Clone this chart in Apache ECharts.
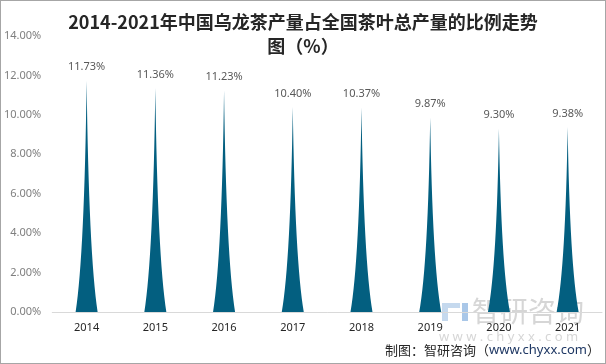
<!DOCTYPE html>
<html><head><meta charset="utf-8">
<script src="https://cdn.jsdelivr.net/npm/echarts@6/dist/echarts.min.js"></script>
<style>
html,body{margin:0;padding:0;background:#fff;}
#c{width:604px;height:362px;border:1px solid #a6a6a6;}
</style></head>
<body><div id="c"></div>
<script>
const years = ['2014','2015','2016','2017','2018','2019','2020','2021'];
const shares = [11.73, 11.36, 11.23, 10.40, 10.37, 9.87, 9.30, 9.38];
const yTicks = [0, 2, 4, 6, 8, 10, 12, 14];

const chart = echarts.init(document.getElementById('c'));
chart.setOption({
  animation: false,
  backgroundColor: '#fff',
  title: {
    text: '2014-2021年中国乌龙茶产量占全国茶叶总产量的比例走势\n图（%）',
    left: 'center', top: 4,
    textStyle: {fontFamily: 'Noto Sans CJK SC', fontWeight: 'bold', fontSize: 18, color: '#262626', lineHeight: 24}
  },
  grid: {left: 49, right: 3, top: 35, bottom: 51},
  xAxis: {
    type: 'category', data: years,
    axisLine: {lineStyle: {color: '#d9d9d9'}},
    axisTick: {show: false},
    axisLabel: {color: '#262626', fontSize: 11, fontFamily: 'Noto Sans', margin: 10}
  },
  yAxis: {
    type: 'value', min: yTicks[0], max: yTicks[yTicks.length-1], interval: 2,
    splitLine: {show: false},
    axisLine: {show: false}, axisTick: {show: false},
    axisLabel: {color: '#7f7f7f', fontSize: 11, fontFamily: 'Noto Sans', margin: 11,
      formatter: v => v.toFixed(2) + '%'}
  },
  series: [{
    type: 'pictorialBar',
    data: shares,
    symbol: 'path://M0,10 L10,10 Q6,7.5 5,0 Q4,7.5 0,10 z',
    barWidth: 22,
    itemStyle: {color: '#035f80'},
    label: {show: true, position: 'top', distance: 8, color: '#595959', fontSize: 11, fontFamily: 'Noto Sans',
      formatter: p => p.value.toFixed(2) + '%'}
  }],
  graphic: [
    {type: 'rect', left: 441, top: 302, shape: {width: 6, height: 18}, style: {fill: '#c5d9ee'}, z: -1},
    {type: 'rect', left: 447, top: 302, shape: {width: 12, height: 5}, style: {fill: '#c5d9ee'}, z: -1},
    {type: 'rect', left: 461, top: 302, shape: {width: 6, height: 18}, style: {fill: '#a9c7e8'}, z: -1},
    {type: 'text', left: 471, top: 296, style: {text: '智研咨询', fontSize: 28, fontFamily: 'Noto Sans CJK SC', fill: '#d6d6d6'}, z: -1},
    {type: 'text', left: 438, top: 330, style: {text: 'w w w . c h y x x . c o m', fontSize: 13, fontFamily: 'Noto Sans', fill: '#d6d6d6'}, z: -1},
    {type: 'text', right: 5, top: 343, style: {
      rich: {a: {fontSize: 13, fontFamily: 'Noto Sans CJK SC', fill: '#262626'},
             b: {fontSize: 13, fontFamily: 'Noto Sans', fill: '#1f3864'}},
      text: '{a|制图：智研咨询（}{b|www.chyxx.com}{a|）}'}}
  ]
});
</script></body></html>
